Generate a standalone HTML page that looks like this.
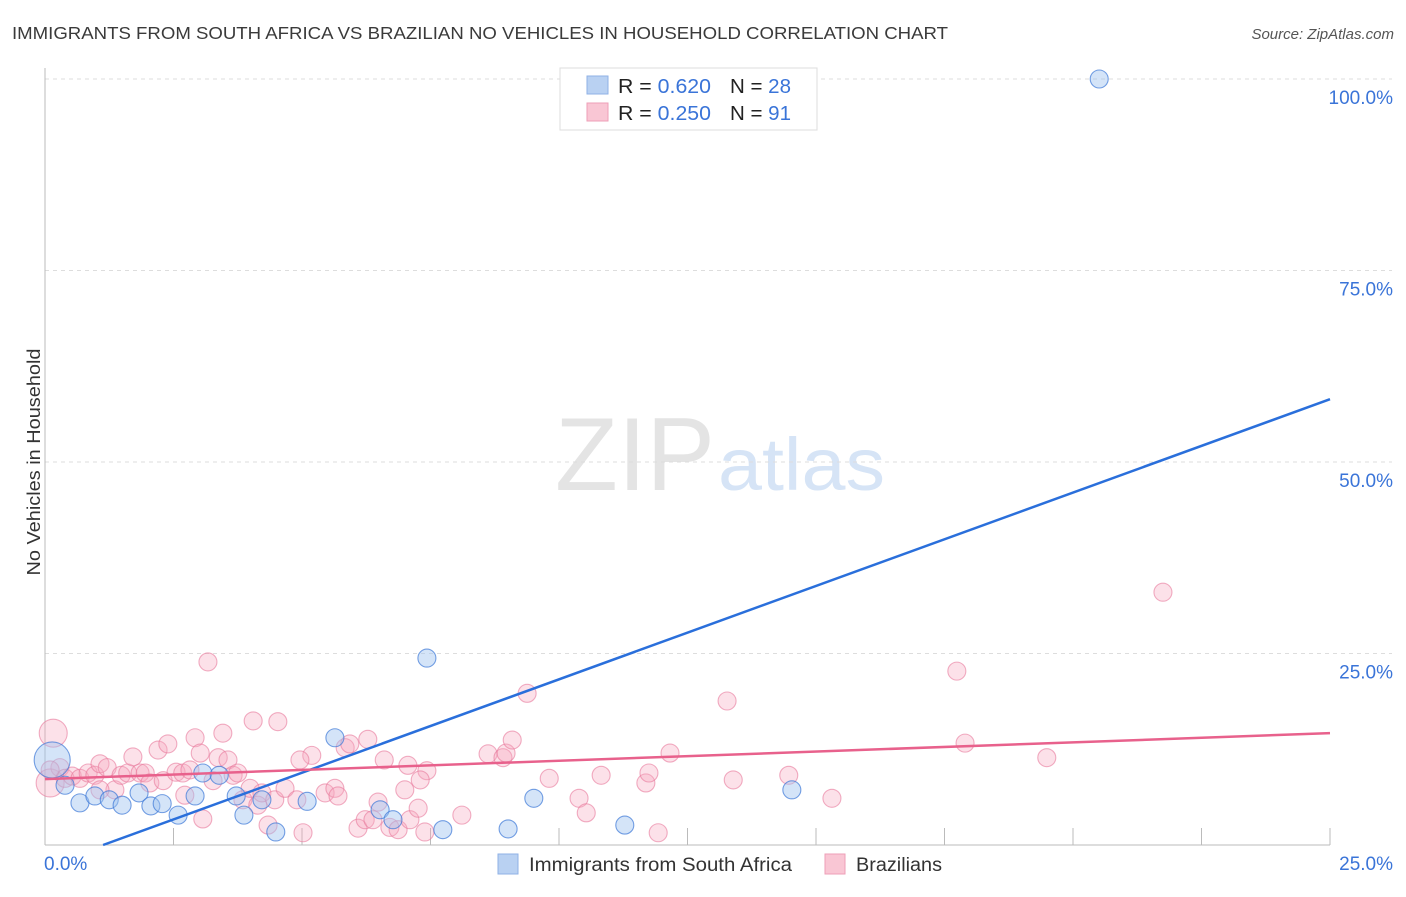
<!DOCTYPE html>
<html><head><meta charset="utf-8"><style>
body{margin:0;background:#fff;font-family:"Liberation Sans",sans-serif;}
svg text{font-family:"Liberation Sans",sans-serif;}
</style></head><body>
<svg id="chart" width="1406" height="892" viewBox="0 0 1406 892" xmlns="http://www.w3.org/2000/svg">
<text x="12" y="39" font-size="17.5" fill="#3a3a3a" textLength="936" lengthAdjust="spacingAndGlyphs">IMMIGRANTS FROM SOUTH AFRICA VS BRAZILIAN NO VEHICLES IN HOUSEHOLD CORRELATION CHART</text>
<text x="1394" y="39" font-size="15" fill="#555" font-style="italic" text-anchor="end">Source: ZipAtlas.com</text>
<text x="555" y="490" font-size="104" fill="#e4e4e4" textLength="160" lengthAdjust="spacingAndGlyphs" font-family="Liberation Serif, serif">ZIP</text>
<text x="718" y="490" font-size="74" fill="#d6e4f6" textLength="167" lengthAdjust="spacingAndGlyphs">atlas</text>
<g id="grid"></g>
<g id="axes"></g>
<g id="pts"></g>
<g id="lines"></g>
<text x="28" y="462" font-size="18" fill="#333" text-anchor="middle" textLength="227" lengthAdjust="spacingAndGlyphs" transform="rotate(-90 34 456)">No Vehicles in Household</text>
<g>
<rect x="560" y="68" width="257" height="62" fill="#fff" stroke="#ddd"/>
<rect x="587" y="76" width="21" height="18" fill="#b9d1f2" stroke="#8fb1e6"/>
<rect x="587" y="103" width="21" height="18" fill="#f9c6d4" stroke="#ee9fb7"/>
<text x="618" y="93" font-size="20" fill="#222" textLength="93" lengthAdjust="spacingAndGlyphs">R = <tspan fill="#3a74d8">0.620</tspan></text>
<text x="730" y="93" font-size="20" fill="#222" textLength="61" lengthAdjust="spacingAndGlyphs">N = <tspan fill="#3a74d8">28</tspan></text>
<text x="618" y="120" font-size="20" fill="#222" textLength="93" lengthAdjust="spacingAndGlyphs">R = <tspan fill="#3a74d8">0.250</tspan></text>
<text x="730" y="120" font-size="20" fill="#222" textLength="61" lengthAdjust="spacingAndGlyphs">N = <tspan fill="#3a74d8"> 91</tspan></text>
</g>
<g>
<rect x="498" y="854" width="20" height="20" fill="#b9d1f2" stroke="#8fb1e6"/>
<text x="529" y="871" font-size="19" fill="#333" textLength="263" lengthAdjust="spacingAndGlyphs">Immigrants from South Africa</text>
<rect x="825" y="854" width="20" height="20" fill="#f9c6d4" stroke="#ee9fb7"/>
<text x="856" y="871" font-size="19" fill="#333" textLength="86" lengthAdjust="spacingAndGlyphs">Brazilians</text>
</g>
</svg>
<script>
const blueX=[0.14,0.39,0.68,0.97,1.25,1.50,1.83,2.06,2.28,2.59,2.92,3.07,3.39,3.72,3.87,4.22,4.49,5.10,5.64,6.52,6.77,7.43,7.74,9.01,9.51,11.28,14.53,20.51];
const blueY=[11.1,7.8,5.5,6.4,5.9,5.2,6.8,5.1,5.4,3.9,6.4,9.4,9.1,6.4,3.9,5.9,1.7,5.7,14.0,4.6,3.3,24.4,2.0,2.1,6.1,2.6,7.2,100];
const pinkX=[0.16,0.10,0.29,0.39,0.53,0.68,0.84,0.97,1.07,1.21,1.36,1.48,1.61,1.71,1.85,1.95,2.04,2.20,2.30,2.39,2.55,2.68,2.82,2.92,3.02,3.07,3.17,3.27,3.37,3.46,3.56,3.66,3.75,3.85,3.99,4.05,4.14,4.22,4.34,4.47,4.53,4.67,4.90,5.02,5.19,5.45,5.64,5.70,5.84,5.93,6.09,6.23,6.28,6.38,6.48,6.60,6.71,6.87,7.00,7.06,7.10,7.26,7.39,7.43,8.11,8.62,8.91,8.97,9.09,9.38,9.81,10.39,10.53,10.82,11.69,11.75,11.93,12.16,13.27,13.39,14.47,15.31,17.74,17.90,19.49,21.75,0.10,1.07,2.72,4.96,7.30];
const pinkY=[14.6,8.1,10.1,8.7,9.0,8.7,9.4,9.1,10.6,10.1,7.2,9.1,9.4,11.5,9.4,9.4,8.1,12.4,8.4,13.2,9.5,9.4,9.8,14.0,12.0,3.4,23.9,8.4,11.4,14.6,11.1,9.1,9.4,5.9,7.4,16.2,5.2,6.8,2.6,5.9,16.1,7.4,5.9,1.6,11.7,6.8,7.4,6.4,12.7,13.2,2.2,3.3,13.8,3.3,5.6,11.1,2.3,2.0,7.2,10.4,3.3,4.8,1.7,9.7,3.9,11.9,11.4,12.0,13.7,19.8,8.7,6.1,4.2,9.1,8.1,9.4,1.6,12.0,18.8,8.5,9.1,6.1,22.7,13.3,11.4,33.0,9.8,7.2,6.5,11.1,8.5];
const blueBig=[0];
const pinkBig=[0,1];
const blueTrend=[1.13,0,25,58.2];
const pinkTrend=[0,8.6,25,14.6];
const yTicks=[25,50,75,100];
const yTickLabels=["25.0%","50.0%","75.0%","100.0%"];
const xTickVals=[2.5,5,7.5,10,12.5,15,17.5,20,22.5,25];

const NS="http://www.w3.org/2000/svg";
const X0=45,X1=1330,Y0=845,Y1=79;
const sx=v=>X0+(v/25)*(X1-X0);
const sy=v=>Y0-(v/100)*(Y0-Y1);
function mk(tag,attrs,parent){const e=document.createElementNS(NS,tag);for(const k in attrs)e.setAttribute(k,attrs[k]);parent.appendChild(e);return e;}
const grid=document.getElementById('grid'),axes=document.getElementById('axes'),pts=document.getElementById('pts'),lines=document.getElementById('lines');
yTicks.forEach((t,i)=>{
  const l=mk('line',{x1:X0,x2:1392,y1:sy(t),y2:sy(t),stroke:'#ddd','stroke-dasharray':'4 4'},grid);
  
  
  const tx=mk('text',{x:1393,y:sy(t)+25,'font-size':19,fill:'#3a74d8','text-anchor':'end'},axes);
  tx.textContent=yTickLabels[i];
  
  
});
const ya=mk('line',{x1:X0,x2:X0,y1:68,y2:Y0,stroke:'#bbb'},axes);


const xa=mk('line',{x1:X0,x2:X1,y1:Y0,y2:Y0,stroke:'#bbb'},axes);


xTickVals.forEach(t=>{
  const l=mk('line',{x1:sx(t),x2:sx(t),y1:828,y2:Y0,stroke:'#bbb'},axes);
  
  
});
const xl0=mk('text',{x:44,y:870,'font-size':19,fill:'#3a74d8'},axes);xl0.textContent='0.0%';


const xl1=mk('text',{x:1393,y:870,'font-size':19,fill:'#3a74d8','text-anchor':'end'},axes);xl1.textContent='25.0%';



pinkX.forEach((x,i)=>{
  const c=mk('circle',{cx:sx(x),cy:sy(pinkY[i]),r:pinkBig.includes(i)?14:9,fill:'rgba(246,168,192,0.35)',stroke:'rgba(232,120,155,0.6)','stroke-width':1.1},pts);
  
  
});
blueX.forEach((x,i)=>{
  const c=mk('circle',{cx:sx(x),cy:sy(blueY[i]),r:blueBig.includes(i)?18:9,fill:'rgba(160,195,240,0.45)',stroke:'rgba(60,120,215,0.7)','stroke-width':1.1},pts);
  
  
});
const bl=mk('line',{x1:sx(blueTrend[0]),y1:sy(blueTrend[1]),x2:sx(blueTrend[2]),y2:sy(blueTrend[3]),stroke:'#2a6fdb','stroke-width':2.5},lines);


const pl=mk('line',{x1:sx(pinkTrend[0]),y1:sy(pinkTrend[1]),x2:sx(pinkTrend[2]),y2:sy(pinkTrend[3]),stroke:'#e8618c','stroke-width':2.5},lines);


</script>
</body></html>
